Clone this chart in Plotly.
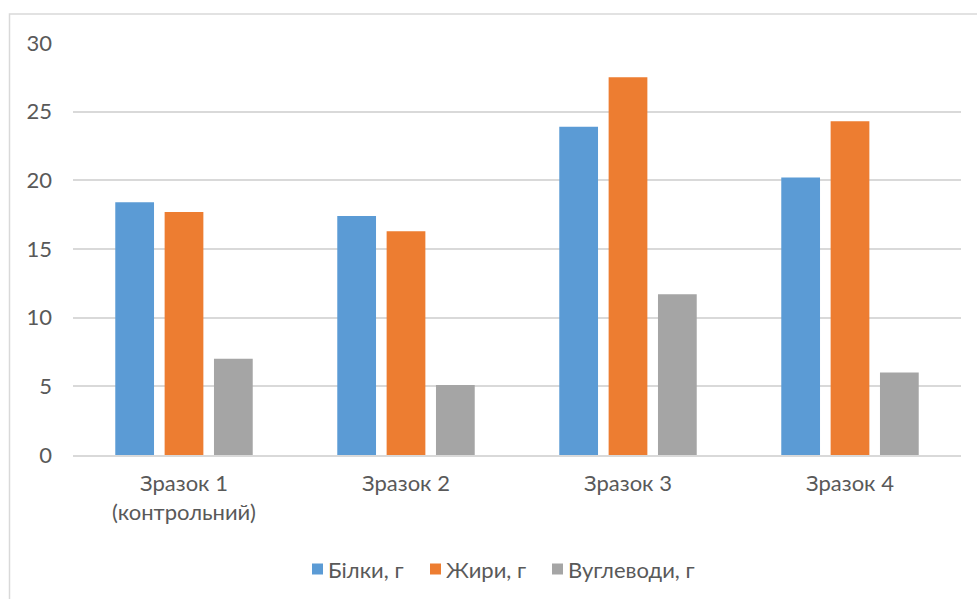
import plotly.graph_objects as go

categories = ["Зразок 1<br>(контрольний)", "Зразок 2", "Зразок 3", "Зразок 4"]
protein = [18.4, 17.4, 23.9, 20.2]
fat = [17.7, 16.3, 27.5, 24.3]
carbs = [7.0, 5.1, 11.7, 6.0]
series_names = ["Білки, г", "Жири, г", "Вуглеводи, г"]
colors = ["#5B9BD5", "#ED7D31", "#A5A5A5"]
y_ticks = [0, 5, 10, 15, 20, 25, 30]

font_family = "Lato, Open Sans, sans-serif"
text_color = "#595959"
fsize = 22

fig = go.Figure()
for name, vals, col in zip(series_names, [protein, fat, carbs], colors):
    fig.add_trace(go.Bar(x=categories, y=vals, name=name, showlegend=False,
                         marker=dict(color=col, line=dict(width=0))))

W, H = 977, 599
ml, mr, mt, mb = 73, 16, 43, 144
pw, ph = W - ml - mr, H - mt - mb


def px_x(x):
    return (x - ml) / pw


def px_y(y):
    return (H - mb - y) / ph


# outer chart frame
fig.add_shape(type="rect", xref="paper", yref="paper",
              x0=px_x(9.5), x1=px_x(W + 20), y0=px_y(H + 20), y1=px_y(14),
              line=dict(color="#d9d9d9", width=1.5), fillcolor="rgba(0,0,0,0)",
              layer="below")

# legend drawn as swatches plus labels
legend_swatch_x = [312, 430, 552]
legend_y = 569
for name, col, sx in zip(series_names, colors, legend_swatch_x):
    fig.add_shape(type="rect", xref="paper", yref="paper",
                  x0=px_x(sx), x1=px_x(sx + 11),
                  y0=px_y(legend_y + 5.5), y1=px_y(legend_y - 5.5),
                  line=dict(width=0), fillcolor=col)
    fig.add_annotation(xref="paper", yref="paper", x=px_x(sx + 14), y=px_y(legend_y),
                       xanchor="left", yanchor="middle", showarrow=False,
                       text=name, font=dict(size=fsize, color=text_color))

fig.update_layout(
    width=W, height=H,
    margin=dict(l=ml, r=mr, t=mt, b=mb),
    paper_bgcolor="white", plot_bgcolor="white",
    barmode="group", bargap=0.333, bargroupgap=0.215,
    font=dict(family=font_family, size=fsize, color=text_color),
    xaxis=dict(showgrid=False, showline=True, linecolor="#d9d9d9", linewidth=1.5,
               ticks="", ticklabelstandoff=8,
               tickfont=dict(size=fsize, color=text_color)),
    yaxis=dict(range=[0, 30], tickvals=y_ticks, showgrid=True,
               gridcolor="#d9d9d9", gridwidth=1.5, zeroline=False,
               showline=False, ticks="", ticklabelstandoff=20,
               tickfont=dict(size=fsize, color=text_color)),
    showlegend=False,
)

fig.write_html("out.html")
